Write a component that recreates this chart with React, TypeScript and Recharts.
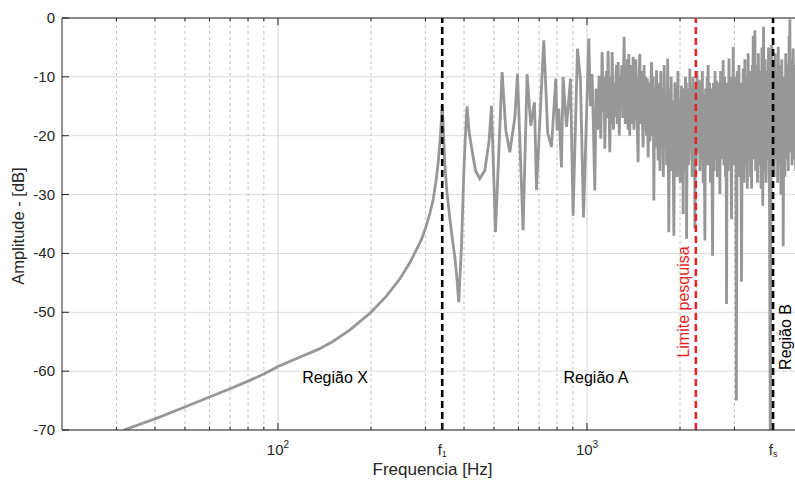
import React from 'react';
import {
  LineChart,
  Line,
  XAxis,
  YAxis,
  CartesianGrid,
  ReferenceLine,
  ReferenceDot,
} from 'recharts';

// Região X: smooth rise up to the first resonance
const LOW_FREQ_HZ = [
  31.7, 40, 50, 60, 70, 80, 90, 100, 118, 135, 150, 171, 200, 224, 248, 267, 281, 292, 301, 310,
  318, 325, 330, 335, 340,
];
const LOW_AMP_DB = [
  -70, -68.1, -66.1, -64.4, -63.0, -61.7, -60.5, -59.2, -57.6, -56.3, -55.0, -53.0, -50.0, -47.3,
  -44.3, -41.6, -39.3, -37.5, -35.5, -33.2, -30.8, -27.5, -24.5, -20.5, -14.8,
];

// Região A: separated modes up to ~1 kHz
const MID_FREQ_HZ = [
  343, 346.5, 352, 359.6, 366, 373.5, 379, 384.6, 388, 392.4, 399.2, 404, 409.1, 415, 422.8, 435.5,
  449.8, 467, 482.2, 490.8, 505.6, 531.3, 546.1, 562.6, 584, 595.7, 621.1, 640, 657.7, 676.1, 686.3,
  724.6, 746.5, 767.5, 792.5, 800.2, 810.4, 826.8, 836.7, 858.2, 884.2, 901.5, 931.5, 952.6, 974.1,
];
const MID_AMP_DB = [
  -19, -24.7, -29.5, -33.9, -37.2, -40.6, -44, -48.3, -44, -38.9, -26.4, -20, -15.0, -19.2, -21.9,
  -25.9, -27.3, -25.9, -20.8, -14.9, -36.4, -9.2, -19.1, -22.8, -17, -9.5, -36.1, -9.5, -18.3,
  -14.3, -29.2, -3.8, -19.6, -21.9, -10.3, -19.1, -15.4, -25.4, -10.0, -18.5, -10.3, -33.6, -5.2,
  -10.6, -33.9,
];

// 1 kHz to 1.7 kHz, modes start to overlap
const UPPER_FREQ_HZ = [
  1013.5, 1026, 1038.7, 1049, 1059.8, 1070, 1082, 1094.4, 1108.3, 1119.1, 1130, 1136, 1141.7, 1155,
  1162, 1170.2, 1185.1, 1195, 1200, 1205.8, 1218, 1224, 1230.3, 1245, 1252, 1260.9, 1272, 1280,
  1286.4, 1295, 1305, 1318.5, 1330, 1336, 1342.4, 1352, 1358, 1365.5, 1375, 1380, 1386.1, 1396,
  1403, 1409.9, 1418, 1427.9, 1438, 1450, 1463.5, 1472, 1482.2, 1492, 1500, 1510, 1519.2, 1530,
  1540, 1549, 1558.2, 1567, 1577, 1588, 1598, 1608, 1617.5, 1630, 1638, 1645.6, 1655, 1665, 1678.8,
  1689, 1699,
];
const UPPER_AMP_DB = [
  -3.5, -15, -9.5, -19, -29.3, -12, -19, -9.8, -20.5, -5.8, -16, -10, -22.2, -9,
  -17, -5.6, -22.8, -10, -18, -5.8, -19, -11, -16.8, -8, -18, -7.5, -20, -10,
  -14.3, -8, -17, -3.2, -18, -9, -15.1, -7, -19, -6.1, -20, -9, -14.6, -8,
  -18, -6.6, -19, -12.6, -7, -16, -24.5, -11, -6.1, -18, -9, -17, -22.0, -8,
  -19, -10, -20, -10.3, -23.7, -11, -21, -12, -7.5, -20, -10, -31.0, -12, -22, -8.9,
  -18, -24.2,
];

// dense part up to the end of the axis
const HIGH_FREQ_HZ = [
  1711, 1722, 1733, 1744, 1755, 1766, 1777, 1788, 1799, 1810, 1825, 1840, 1850, 1861, 1872, 1883,
  1894, 1910, 1925, 1936, 1947, 1958, 1969, 1980, 1991, 2002, 2022, 2034, 2040, 2047, 2058, 2070,
  2082, 2092, 2096, 2100, 2112, 2124, 2138, 2152, 2164, 2176, 2190, 2204, 2218, 2226, 2234, 2246,
  2258, 2270, 2282, 2294, 2300, 2307, 2320, 2334, 2348, 2362, 2376, 2390, 2407, 2420, 2434, 2448,
  2456, 2466, 2480, 2494, 2510, 2527, 2549, 2564, 2580, 2596, 2612, 2626, 2642, 2658, 2674, 2682,
  2691, 2706, 2722, 2740, 2749, 2758, 2774, 2790, 2806, 2817, 2828, 2844, 2862, 2880, 2896, 2912,
  2935, 2952, 2962, 2972, 2988, 3006, 3024, 3033, 3043, 3062, 3082, 3102, 3122, 3142, 3163, 3182,
  3192, 3202, 3222, 3242, 3262, 3282, 3302, 3322, 3342, 3362, 3382, 3396, 3409, 3428, 3440, 3450,
  3470, 3494, 3514, 3538, 3562, 3586, 3610, 3634, 3658, 3682, 3705, 3725, 3748, 3772, 3796, 3820,
  3844, 3868, 3895, 3921, 3940, 3957, 3980, 4006, 4034, 4062, 4090, 4118, 4140, 4157, 4185, 4213,
  4241, 4269, 4292, 4303, 4314, 4340, 4368, 4396, 4424, 4452, 4480, 4508, 4520, 4534, 4555, 4580,
  4608, 4648, 4676, 4704, 4732, 4760, 4788, 4816, 4844, 4872, 4900,
];
const HIGH_AMP_DB = [
  -11, -26, -9, -22, -12, -27, -8, -20, -13, -25, -6.9, -36.4, -12, -23, -10, -26,
  -14, -37, -10.9, -22, -12, -27, -9, -21, -14, -28, -11.5, -24, -12, -33.3, -13, -23,
  -10, -26, -11, -37.5, -12, -25, -24, -8.6, -22, -12, -27, -10, -24, -12, -35.8, -12,
  -25, -9, -23, -12, -22, -10.5, -26, -11, -24, -9, -28, -13, -37.8, -12, -25, -10,
  -22, -8, -25, -11, -28, -12, -40.4, -11, -26, -9, -24, -10.6, -27, -12, -22, -11,
  -29.9, -9, -24, -12, -22, -7.2, -25, -10, -27, -12, -48.6, -11, -26, -6.9, -24, -10,
  -34.2, -12, -22, -4.9, -25, -10, -24, -11, -65, -9, -26, -8, -27, -11, -44.8, -12,
  -24, -8.6, -28, -7, -25, -10, -29, -6, -24, -9, -27, -10, -29, -8, -20, -3,
  -24, -2.1, -26, -8, -28, -6, -25, -9, -29, -5, -31.9, -1.5, -26, -7, -28, -9,
  -24, -5, -31.9, -76, -18, -4.6, -26, -8, -27, -6, -24, -9, -28, -4.9, -25, -8,
  -30, -7, -26, -10, -38.8, -10, -27, -6, -24, -8, -26, -3, -18, -0.2, -22.8, -7,
  -25, -5.2, -24, -8, -26, -6, -23, -9, -25, -7, -20,
];

const Y_TICKS = [0, -10, -20, -30, -40, -50, -60, -70];
const X_TICKS = [100, 340, 1000, 4000];
const X_TICK_LABELS = [
  { base: '10', sup: '2' },
  { base: 'f', sub: '1' },
  { base: '10', sup: '3' },
  { base: 'f', sub: 's' },
];
const MINOR_GRID_HZ = [30, 40, 50, 60, 70, 80, 90, 200, 300, 400, 500, 600, 700, 800, 900, 2000, 3000];
const MAJOR_GRID_HZ = [100, 1000];
const F1_HZ = 340;
const FS_HZ = 4000;
const LIMIT_HZ = 2250;

const FONT = '"Liberation Sans", Arial, Helvetica, sans-serif';
const INK = '#262626';

const toPoints = (freqs: number[], amps: number[]) => freqs.map((f, i) => ({ f, db: amps[i] }));

const data = [
  ...toPoints(LOW_FREQ_HZ, LOW_AMP_DB),
  ...toPoints(MID_FREQ_HZ, MID_AMP_DB),
  ...toPoints(UPPER_FREQ_HZ, UPPER_AMP_DB),
  ...toPoints(HIGH_FREQ_HZ, HIGH_AMP_DB),
];

function XTick({ x, y, payload }: any) {
  const lab = X_TICK_LABELS[X_TICKS.indexOf(payload.value)];
  if (!lab) return null;
  return (
    <g>
      <line x1={x} x2={x} y1={y} y2={y - 7} stroke={INK} />
      <text x={x} y={y + 25} textAnchor="middle" fontSize={15} fill={INK} fontFamily={FONT}>
        {lab.base}
        {lab.sup && (
          <tspan dy={-7} fontSize={10}>
            {lab.sup}
          </tspan>
        )}
        {lab.sub && (
          <tspan dy={2} fontSize={9}>
            {lab.sub}
          </tspan>
        )}
      </text>
    </g>
  );
}

function YTick({ x, y, payload }: any) {
  return (
    <g>
      <line x1={x} x2={x + 7} y1={y} y2={y} stroke={INK} />
      <text x={x - 7} y={y + 5} textAnchor="end" fontSize={15} fill={INK} fontFamily={FONT}>
        {payload.value}
      </text>
    </g>
  );
}

function PlotText({ viewBox, text, color = '#000', rotate = false }: any) {
  const x = viewBox?.x ?? 0;
  const y = viewBox?.y ?? 0;
  return (
    <text
      x={x}
      y={y}
      textAnchor="middle"
      fontSize={16}
      fill={color}
      fontFamily={FONT}
      transform={rotate ? `rotate(-90 ${x} ${y})` : undefined}
    >
      {text}
    </text>
  );
}

export default function App() {
  return (
    <div
      style={{
        position: 'absolute',
        left: 0,
        top: 0,
        width: 795,
        height: 484,
        overflow: 'hidden',
        background: '#fff',
      }}
    >
      <LineChart width={810} height={484} data={data} margin={{ top: 18, right: 7, bottom: 0, left: 0 }}>
        <CartesianGrid vertical={false} stroke="#dcdcdc" />
        {MINOR_GRID_HZ.map((f) => (
          <ReferenceLine key={`mg${f}`} x={f} stroke="#c2c2c2" strokeDasharray="3 3" />
        ))}
        {MAJOR_GRID_HZ.map((f) => (
          <ReferenceLine key={`Mg${f}`} x={f} stroke="#d6d6d6" />
        ))}
        {MINOR_GRID_HZ.map((f) => (
          <ReferenceLine
            key={`mtb${f}`}
            segment={[{ x: f, y: -70 }, { x: f, y: -69.45 }]}
            stroke={INK}
          />
        ))}
        {MINOR_GRID_HZ.map((f) => (
          <ReferenceLine
            key={`mtt${f}`}
            segment={[{ x: f, y: 0 }, { x: f, y: -0.55 }]}
            stroke={INK}
          />
        ))}
        {MAJOR_GRID_HZ.map((f) => (
          <ReferenceLine
            key={`Mtt${f}`}
            segment={[{ x: f, y: 0 }, { x: f, y: -1.2 }]}
            stroke={INK}
          />
        ))}
        <ReferenceLine y={0} stroke={INK} />
        <XAxis
          dataKey="f"
          type="number"
          scale="log"
          domain={[20, 5000]}
          allowDataOverflow
          ticks={X_TICKS}
          tick={<XTick />}
          tickLine={false}
          tickSize={0}
          tickMargin={0}
          height={54}
          axisLine={{ stroke: INK }}
          label={(p: any) => (
            <text
              x={(p.viewBox?.x ?? 62) + (p.viewBox?.width ?? 741) / 2}
              y={475}
              textAnchor="middle"
              fontSize={17}
              fill={INK}
              fontFamily={FONT}
            >
              Frequencia [Hz]
            </text>
          )}
        />
        <YAxis
          type="number"
          domain={[-70, 0]}
          allowDataOverflow
          ticks={Y_TICKS}
          tick={<YTick />}
          tickLine={false}
          tickSize={0}
          tickMargin={0}
          width={62}
          axisLine={{ stroke: INK }}
          label={() => (
            <text
              x={24}
              y={226}
              textAnchor="middle"
              fontSize={16.5}
              fill={INK}
              fontFamily={FONT}
              transform="rotate(-90 24 226)"
            >
              Amplitude - [dB]
            </text>
          )}
        />
        <Line
          dataKey="db"
          type="linear"
          stroke="#979797"
          strokeWidth={2.8}
          dot={false}
          isAnimationActive={false}
        />
        <ReferenceLine x={F1_HZ} stroke="#000" strokeWidth={2.6} strokeDasharray="7 4" />
        <ReferenceLine x={FS_HZ} stroke="#000" strokeWidth={2.6} strokeDasharray="7 4" />
        <ReferenceLine x={LIMIT_HZ} stroke="#e3262b" strokeWidth={2.6} strokeDasharray="7 4" />
        <ReferenceDot x={153} y={-62} r={0} fill="none" stroke="none" label={<PlotText text="Região X" />} />
        <ReferenceDot x={1069} y={-62} r={0} fill="none" stroke="none" label={<PlotText text="Região A" />} />
        <ReferenceDot
          x={2138}
          y={-48.25}
          r={0}
          fill="none"
          stroke="none"
          label={<PlotText text="Limite pesquisa" color="#e3262b" rotate />}
        />
        <ReferenceDot
          x={4560}
          y={-54.2}
          r={0}
          fill="none"
          stroke="none"
          label={<PlotText text="Região B" rotate />}
        />
      </LineChart>
    </div>
  );
}
